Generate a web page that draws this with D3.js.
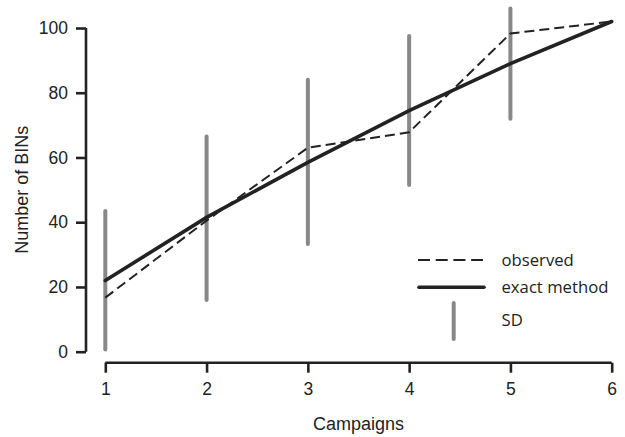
<!DOCTYPE html>
<html>
<head>
<meta charset="utf-8">
<script src="https://cdn.jsdelivr.net/npm/d3@7"></script>
<style>
	body { margin: 0; background: #fff; }
	svg { display: block; }
	.tick text { font-family: "Liberation Sans", Arial, sans-serif; font-size: 17.5px; fill: #222; }
	.title { font-family: "Liberation Sans", Arial, sans-serif; font-size: 18px; fill: #222; }
	.legend text { font-family: "Open Sans", "Noto Sans", sans-serif; font-size: 16.7px; fill: #222; }
</style>
</head>
<body>
<svg id="chart" width="625" height="437"></svg>
<script>
const campaigns = [1, 2, 3, 4, 5, 6];
const observed = [16.7, 40.5, 63, 67.8, 98.3, 102];
const exact = [22, 41.5, 58.5, 74.5, 89, 102];
const sdLow = [0.7, 16, 33.3, 51.5, 72, null];
const sdHigh = [43.5, 66.5, 84, 97.5, 106, null];
const xTicks = [1, 2, 3, 4, 5, 6];
const yTicks = [0, 20, 40, 60, 80, 100];

const svg = d3.select("#chart");
const x = d3.scaleLinear().domain([1, 6]).range([105.3, 611.7]);
const y = d3.scaleLinear().domain([0, 100]).range([351.7, 28]);

// axes
const yAxis = svg.append("g")
	.attr("transform", "translate(86,0)")
	.call(d3.axisLeft(y).tickValues(yTicks).tickFormat(d3.format("d")).tickSize(10).tickPadding(8));
const xAxis = svg.append("g")
	.attr("transform", "translate(0,362.7)")
	.call(d3.axisBottom(x).tickValues(xTicks).tickFormat(d3.format("d")).tickSize(10).tickPadding(10));

[yAxis, xAxis].forEach(a => {
	a.select(".domain").attr("stroke", "#222").attr("stroke-width", 2.6);
	a.selectAll(".tick line").attr("stroke", "#222").attr("stroke-width", 2.6);
});
// plain spines, no outer ticks
yAxis.select(".domain").attr("d", `M0,${y(100)}V${y(0)}`);
xAxis.select(".domain").attr("d", `M${x(1)},0H${x(6)}`);

// axis titles
svg.append("text").attr("class", "title")
	.attr("transform", `translate(22,${(y(0) + y(100)) / 2}) rotate(-90)`)
	.attr("text-anchor", "middle")
	.attr("dy", "0.35em")
	.text("Number of BINs");
svg.append("text").attr("class", "title")
	.attr("x", (x(1) + x(6)) / 2)
	.attr("y", 429.5)
	.attr("text-anchor", "middle")
	.text("Campaigns");

// SD bars
const sdData = campaigns.map((c, i) => ({c, lo: sdLow[i], hi: sdHigh[i]})).filter(d => d.lo != null);
svg.append("g").selectAll("line").data(sdData).enter().append("line")
	.attr("x1", d => x(d.c)).attr("x2", d => x(d.c))
	.attr("y1", d => y(d.lo)).attr("y2", d => y(d.hi))
	.attr("stroke", "#888").attr("stroke-width", 4).attr("stroke-linecap", "round");

const line = d3.line().x((d, i) => x(campaigns[i])).y(d => y(d));

svg.append("path").datum(observed)
	.attr("d", line).attr("fill", "none")
	.attr("stroke", "#222").attr("stroke-width", 2)
	.attr("stroke-dasharray", "10,5");
svg.append("path").datum(exact)
	.attr("d", line).attr("fill", "none")
	.attr("stroke", "#222").attr("stroke-width", 3.6)
	.attr("stroke-linecap", "round");

// legend
const lg = svg.append("g").attr("class", "legend");
lg.append("line").attr("x1", 418).attr("x2", 483).attr("y1", 260).attr("y2", 260)
	.attr("stroke", "#222").attr("stroke-width", 2).attr("stroke-dasharray", "12,5.7");
lg.append("line").attr("x1", 419).attr("x2", 484).attr("y1", 287.3).attr("y2", 287.3)
	.attr("stroke", "#222").attr("stroke-width", 3.6).attr("stroke-linecap", "round");
lg.append("line").attr("x1", 453.7).attr("x2", 453.7).attr("y1", 303).attr("y2", 339)
	.attr("stroke", "#888").attr("stroke-width", 4).attr("stroke-linecap", "round");
const labels = [["observed", 260], ["exact method", 287.3], ["SD", 320]];
lg.selectAll("text").data(labels).enter().append("text")
	.attr("x", 501.5).attr("y", d => d[1]).attr("dy", "0.35em")
	.text(d => d[0]);
</script>
</body>
</html>
